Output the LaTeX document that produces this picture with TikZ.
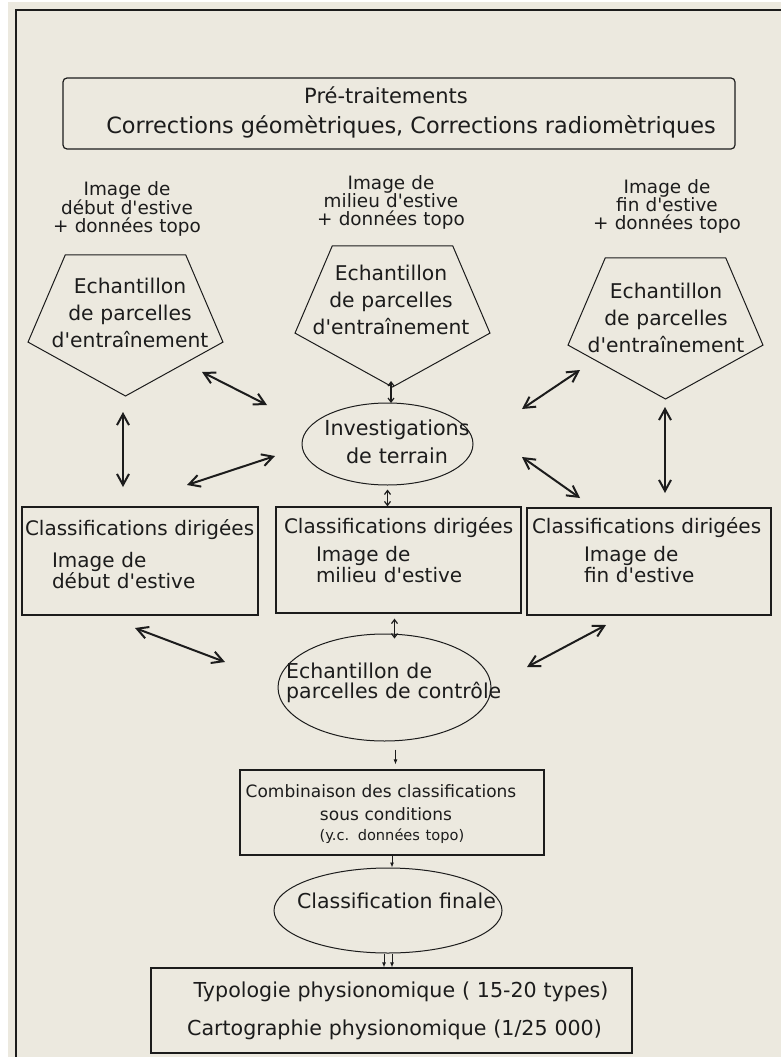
\documentclass[tikz,border=0pt]{standalone}
\usepackage{fontspec}
\setmainfont{DejaVu Sans}[Ligatures=TeXOff]
\usepackage{tikz}
\usetikzlibrary{arrows.meta}
\usetikzlibrary{shapes}
\usetikzlibrary{positioning}
\definecolor{fond}{HTML}{ECE9DF}
\definecolor{trait}{HTML}{1C1C1C}
\newcommand{\pentagone}[2]{%
  \draw[line width=1pt, shift={(#1,#2)}] (90:102.5 and 78) -- (18:102.5 and 78)
    -- (-54:102.5 and 78) -- (234:102.5 and 78) -- (162:102.5 and 78) -- cycle;}
\tikzset{%
  boite/.style={
    draw=trait,
    rectangle,
    line width=1.2pt,
    inner ysep=0pt,
    align=left,
    font=\fontsize{20}{21}\selectfont
  },
  ovale/.style={
    draw=trait,
    ellipse,
    line width=1pt,
    inner sep=0pt
  },
  texte/.style={
    inner sep=0pt,
    align=center,
    font=\fontsize{20.3}{27}\selectfont
  },
  legende/.style={
    inner sep=0pt,
    align=center,
    text width=180pt,
    font=\fontsize{18.4}{18}\selectfont
  },
  fleche/.style={
    line width=2pt,
    {Straight Barb[length=11pt,width=12pt]}-{Straight Barb[length=11pt,width=12pt]}
  },
  petite fleche/.style={
    line width=1.2pt,
    {Straight Barb[length=4pt,width=6pt]}-{Straight Barb[length=4pt,width=6pt]}
  },
  fine fleche/.style={
    line width=0.9pt,
    -{Latex[length=5pt,width=4pt]}
  },
}
\begin{document}
\begin{tikzpicture}[x=1pt,y=-1pt,color=trait]
  \useasboundingbox (0,0) rectangle (781,1057);
  \fill[white] (0,0) rectangle (781,1057);
  \fill[fond] (8,2) rectangle (781,1057);
  \draw[line width=2pt] (16,1057) -- (16,10) -- (781,10);

  \node (pre) [boite, rounded corners=4pt, anchor=base, align=center, text width=660pt,
    inner xsep=6pt, text height=25pt, text depth=46pt, font=\fontsize{21}{30}\selectfont]
    at (399,103) {\hspace*{-26pt}Pré-traitements\\\hspace*{24pt}{\fontsize{22.4}{30}\selectfont Corrections géomètriques, Corrections radiomètriques}};

  \node (ld) [legende, anchor=base] at (127,195) {Image de\\début d'estive\\+ données topo};
  \node (lm) [legende, anchor=base] at (391,189) {Image de\\milieu d'estive\\+ données topo};
  \node (lf) [legende, anchor=base] at (667,193) {Image de\\fin d'estive\\+ données topo};

  \pentagone{125.5}{318}
  \pentagone{392.5}{309}
  \pentagone{665.5}{321}
  \node (ed) [texte, text width=180pt, anchor=base] at (130,293) {Echantillon\\de parcelles\\d'entraînement};
  \node (em) [texte, text width=180pt, anchor=base] at (391,280) {Echantillon\\de parcelles\\d'entraînement};
  \node (ef) [texte, text width=180pt, anchor=base] at (666,298) {Echantillon\\de parcelles\\d'entraînement};

  \node (it) [ovale, minimum width=171pt, minimum height=82pt] at (387.5,444) {};
  \node (itx) [texte, text width=180pt, anchor=base, font=\fontsize{20.7}{28}\selectfont]
    at (397,435) {Investigations\\de terrain};

  \node (cd) [boite, anchor=base, text width=230pt, inner xsep=3pt, text height=28pt, text depth=80pt]
    at (140,535) {\mbox{Classifications dirigées}\\[11pt]\hspace*{27pt}Image de\\\hspace*{27pt}début d'estive};
  \node (cm) [boite, anchor=base, text width=229pt, inner xsep=8pt, text height=26pt, text depth=80pt]
    at (398.5,533) {\mbox{Classifications dirigées}\\[7pt]\hspace*{32pt}Image de\\\hspace*{32pt}milieu d'estive};
  \node (cf) [boite, anchor=base, text width=234pt, inner xsep=5pt, text height=25pt, text depth=82pt]
    at (649,533) {\mbox{Classifications dirigées}\\[7pt]\hspace*{52pt}Image de\\\hspace*{52pt}fin d'estive};

  \node (ec) [ovale, minimum width=213pt, minimum height=107pt] at (384.5,687.5) {};
  \node (ecx) [texte, align=left, text width=230pt, anchor=base west, font=\fontsize{20.5}{20}\selectfont]
    at (286,678) {Echantillon de\\parcelles de contrôle};

  \node (comb) [boite, anchor=base, align=center, text width=300pt, inner xsep=2pt, text height=27pt,
    text depth=58pt, font=\fontsize{17}{23}\selectfont]
    at (392,797) {\hspace*{-22pt}Combinaison des classifications\\\hspace*{-12pt}sous conditions\\[-3pt]{\fontsize{14.6}{20}\selectfont(y.c. données topo)}};

  \node (cl) [ovale, minimum width=228pt, minimum height=85pt] at (388,910.5) {};
  \node (clx) [texte, anchor=base, font=\fontsize{20.5}{24}\selectfont] at (396.5,908) {Classification finale};

  \node (typo) [boite, anchor=base, align=center, text width=477pt, inner xsep=2pt, text height=29pt,
    text depth=56pt, font=\fontsize{20.6}{38}\selectfont]
    at (391.5,997) {\hspace*{19pt}Typologie physionomique ( 15-20 types)\\\hspace*{6pt}Cartographie physionomique (1/25 000)};

  \coordinate (a1) at (202,372); \coordinate (b1) at (267,405);
  \coordinate (a2) at (123,412); \coordinate (b2) at (123,487);
  \coordinate (a3) at (187,485); \coordinate (b3) at (275,456);
  \coordinate (a4) at (580,370); \coordinate (b4) at (522,409);
  \coordinate (a5) at (665,407); \coordinate (b5) at (665,493);
  \coordinate (a6) at (522,457); \coordinate (b6) at (580,498);
  \coordinate (a7) at (135,628); \coordinate (b7) at (225,662);
  \coordinate (a8) at (606,625); \coordinate (b8) at (527,667);
  \coordinate (s1) at (391,381); \coordinate (s2) at (391,403);

  \draw[fleche] (a1) -- (b1);
  \draw[fleche] (a2) -- (b2);
  \draw[fleche] (a3) -- (b3);
  \draw[fleche] (a4) -- (b4);
  \draw[fleche] (a5) -- (b5);
  \draw[fleche] (a6) -- (b6);
  \draw[fleche] (a7) -- (b7);
  \draw[fleche] (a8) -- (b8);
  \draw[petite fleche] (s1) -- (s2);
  \draw[petite fleche, shorten <=4pt] (it.south) -- (it.south |- cm.north);
  \draw[petite fleche, shorten <=5pt, shorten >=-5pt] ([xshift=10pt]ec.north |- cm.south) -- ([xshift=10pt]ec.north);
  \draw[fine fleche, shorten <=8pt, shorten >=5pt] ([xshift=11pt]ec.south) -- ([xshift=11pt]ec.south |- comb.north);
  \draw[fine fleche] (comb.south) -- (comb.south |- cl.north);
  \draw[fine fleche] ([xshift=-4pt]cl.south) -- ([xshift=-4pt]cl.south |- typo.north);
  \draw[fine fleche] ([xshift=4pt]cl.south) -- ([xshift=4pt]cl.south |- typo.north);
\end{tikzpicture}
\end{document}
